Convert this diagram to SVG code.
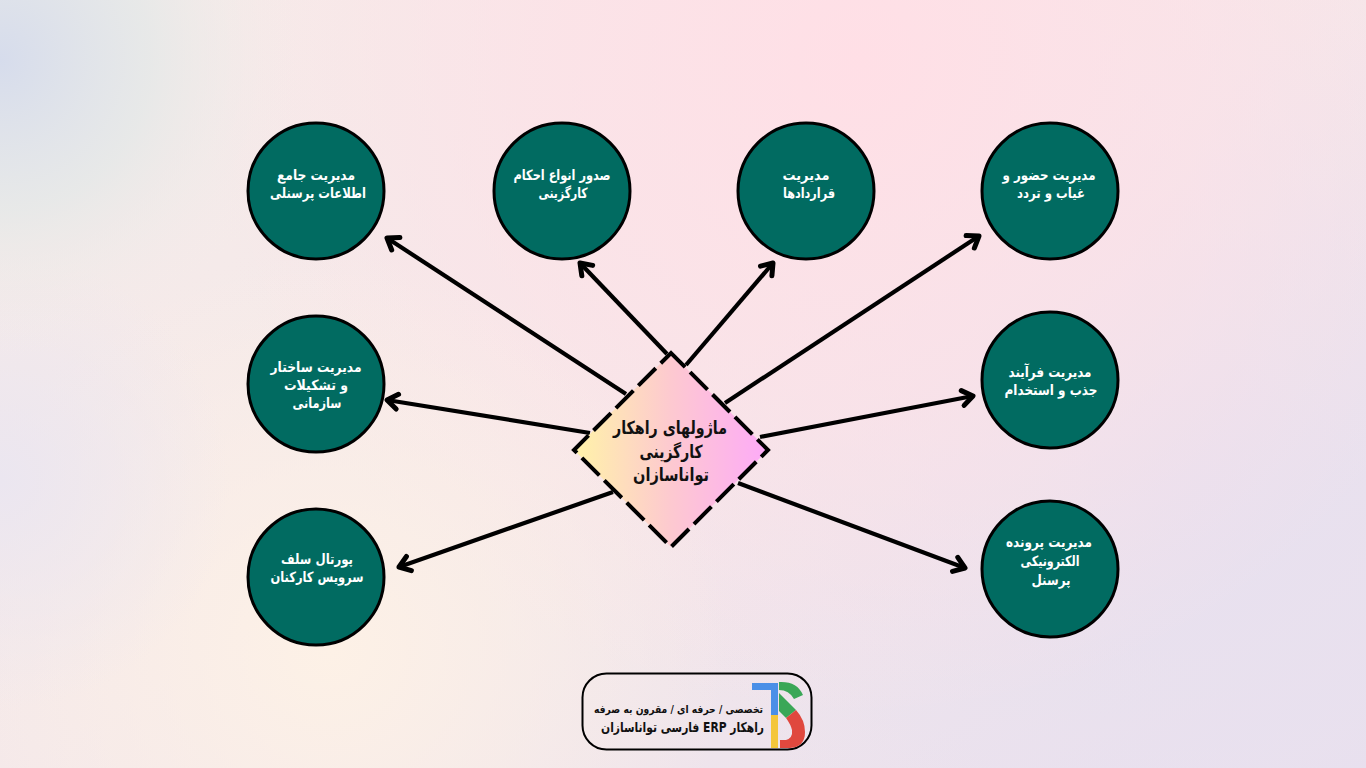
<svg xmlns="http://www.w3.org/2000/svg" width="1366" height="768" viewBox="0 0 1366 768">
<defs>
<linearGradient id="base" x1="0" y1="0" x2="1" y2="1"><stop offset="0" stop-color="#f6ece9"/><stop offset="0.5" stop-color="#f4e8ea"/><stop offset="1" stop-color="#e9e0ee"/></linearGradient>
<radialGradient id="bgBlue" gradientUnits="userSpaceOnUse" cx="0" cy="60" r="300"><stop offset="0" stop-color="#d6dcec"/><stop offset="0.5" stop-color="#e4e8e8" stop-opacity="0.8"/><stop offset="1" stop-color="#f4ece9" stop-opacity="0"/></radialGradient>
<radialGradient id="bgPink" gradientUnits="userSpaceOnUse" cx="860" cy="60" r="660"><stop offset="0" stop-color="#ffdfe6"/><stop offset="0.5" stop-color="#fde1e7" stop-opacity="0.7"/><stop offset="1" stop-color="#fde1e7" stop-opacity="0"/></radialGradient>
<radialGradient id="bgPeach" gradientUnits="userSpaceOnUse" cx="330" cy="650" r="400"><stop offset="0" stop-color="#fdf1e6"/><stop offset="1" stop-color="#fdf1e6" stop-opacity="0"/></radialGradient>
<radialGradient id="bgLav" gradientUnits="userSpaceOnUse" cx="1200" cy="480" r="520"><stop offset="0" stop-color="#e7e0ef"/><stop offset="1" stop-color="#e7e0ef" stop-opacity="0"/></radialGradient>
<radialGradient id="bgBlue2" gradientUnits="userSpaceOnUse" cx="0" cy="480" r="230"><stop offset="0" stop-color="#ebe6f0"/><stop offset="1" stop-color="#ebe6f0" stop-opacity="0"/></radialGradient>
<linearGradient id="dia" x1="0" y1="0" x2="1" y2="0"><stop offset="0" stop-color="#fff3a8"/><stop offset="0.5" stop-color="#fdc9d0"/><stop offset="1" stop-color="#fdaaf8"/></linearGradient>
<marker id="arrow" markerUnits="userSpaceOnUse" markerWidth="24" markerHeight="24" refX="15" refY="12" orient="auto" overflow="visible"><path d="M4.500 4.500 L15 12 L4.500 19.500" fill="none" stroke="#000" stroke-width="5" stroke-linecap="round" stroke-linejoin="round"/></marker>
</defs>
<style>
.c{fill:#016b61;stroke:#000;stroke-width:3}
.t{font-family:"DejaVu Sans","Noto Sans",sans-serif;font-weight:700;font-size:14px;fill:#fff;text-anchor:middle;direction:rtl}
.h{font-family:"DejaVu Sans","Noto Sans",sans-serif;font-weight:700;font-size:18px;fill:#111;text-anchor:middle;direction:rtl}
.l{font-family:"DejaVu Sans","Noto Sans",sans-serif;font-weight:700;fill:#111;direction:rtl;text-anchor:middle}
.a{fill:none;stroke:#000;stroke-width:4.200;stroke-linecap:butt;marker-end:url(#arrow)}
.d{stroke:#000;stroke-width:4;stroke-dasharray:24.700 7;stroke-dashoffset:4.700;fill:none}
</style>
<rect width="1366" height="768" fill="url(#base)"/>
<rect width="1366" height="768" fill="url(#bgLav)"/>
<rect width="1366" height="768" fill="url(#bgPink)"/>
<rect width="1366" height="768" fill="url(#bgPeach)"/>
<rect width="1366" height="768" fill="url(#bgBlue2)"/>
<rect width="1366" height="768" fill="url(#bgBlue)"/>
<g id="connectors">
<line class="a" x1="626" y1="394" x2="387" y2="238"/>
<line class="a" x1="667" y1="354" x2="580" y2="263"/>
<line class="a" x1="686" y1="365" x2="773" y2="263"/>
<line class="a" x1="725" y1="403" x2="979" y2="236"/>
<line class="a" x1="590" y1="433" x2="387" y2="400"/>
<line class="a" x1="760" y1="437" x2="973" y2="396"/>
<line class="a" x1="613" y1="492" x2="399" y2="567"/>
<line class="a" x1="738" y1="483" x2="965" y2="568"/>
</g>
<g id="center">
<path d="M671 353 L768 450 L671 547 L574 450 Z" fill="url(#dia)"/>
<path class="d" d="M671 353 L768 450 L671 547 L574 450 Z"/>
<text class="h" x="670" y="434" textLength="114" lengthAdjust="spacingAndGlyphs">ماژولهای راهکار</text>
<text class="h" x="671" y="458" textLength="63" lengthAdjust="spacingAndGlyphs">کارگزینی</text>
<text class="h" x="671" y="481" textLength="76" lengthAdjust="spacingAndGlyphs">تواناسازان</text>
</g>
<g id="n1"><circle class="c" cx="316" cy="191" r="68"/><text class="t" x="316" y="180" textLength="78" lengthAdjust="spacingAndGlyphs">مدیریت جامع</text><text class="t" x="318" y="198" textLength="96" lengthAdjust="spacingAndGlyphs">اطلاعات پرسنلی</text></g>
<g id="n2"><circle class="c" cx="562" cy="191" r="68"/><text class="t" x="562" y="180" textLength="97" lengthAdjust="spacingAndGlyphs">صدور انواع احکام</text><text class="t" x="563" y="198" textLength="49" lengthAdjust="spacingAndGlyphs">کارگزینی</text></g>
<g id="n3"><circle class="c" cx="806" cy="191" r="68"/><text class="t" x="806" y="180" textLength="47" lengthAdjust="spacingAndGlyphs">مدیریت</text><text class="t" x="809" y="198" textLength="52" lengthAdjust="spacingAndGlyphs">قراردادها</text></g>
<g id="n4"><circle class="c" cx="1050" cy="191" r="68"/><text class="t" x="1049" y="180" textLength="93" lengthAdjust="spacingAndGlyphs">مدیریت حضور و</text><text class="t" x="1051" y="198" textLength="68" lengthAdjust="spacingAndGlyphs">غیاب و تردد</text></g>
<g id="n5"><circle class="c" cx="316" cy="384" r="68"/><text class="t" x="316" y="372" textLength="91" lengthAdjust="spacingAndGlyphs">مدیریت ساختار</text><text class="t" x="316" y="390" textLength="64" lengthAdjust="spacingAndGlyphs">و تشکیلات</text><text class="t" x="317" y="408" textLength="49" lengthAdjust="spacingAndGlyphs">سازمانی</text></g>
<g id="n6"><circle class="c" cx="1050" cy="380" r="68"/><text class="t" x="1050" y="377" textLength="83" lengthAdjust="spacingAndGlyphs">مدیریت فرآیند</text><text class="t" x="1051" y="395" textLength="93" lengthAdjust="spacingAndGlyphs">جذب و استخدام</text></g>
<g id="n7"><circle class="c" cx="316" cy="577" r="68"/><text class="t" x="317" y="564" textLength="72" lengthAdjust="spacingAndGlyphs">پورتال سلف</text><text class="t" x="317" y="582" textLength="93" lengthAdjust="spacingAndGlyphs">سرویس کارکنان</text></g>
<g id="n8"><circle class="c" cx="1050" cy="569" r="68"/><text class="t" x="1049" y="547" textLength="86" lengthAdjust="spacingAndGlyphs">مدیریت پرونده</text><text class="t" x="1050" y="566" textLength="59" lengthAdjust="spacingAndGlyphs">الکترونیکی</text><text class="t" x="1051" y="585" textLength="39" lengthAdjust="spacingAndGlyphs">پرسنل</text></g>
<g id="logo">
<rect x="582.500" y="673.500" width="229" height="76" rx="24" fill="none" stroke="#000" stroke-width="2"/>
<text class="l" x="678.500" y="713" font-size="11" textLength="169" lengthAdjust="spacingAndGlyphs">تخصصی / حرفه ای / مقرون به صرفه</text>
<text class="l" x="682.500" y="732" font-size="13.500" textLength="163" lengthAdjust="spacingAndGlyphs">راهکار ERP فارسی تواناسازان</text>
<path d="M752 683 H778 V715 H771 V690 H752 Z" fill="#4a8fe7"/>
<rect x="771" y="715" width="7" height="33" fill="#f4c63a"/>
<path d="M779 682 Q797 681 803 695 L794 699 Q789 690 779 690 Z" fill="#3aa757"/>
<path d="M779 693 L796 710 L786 718 L779 711 Z" fill="#3aa757"/>
<path d="M796 710 Q805 720 805 732 Q805 747 790 748 L780 748 L780 740 L786 740 Q793 738 792 730 Q791 725 786 718 Z" fill="#e0483e"/>
</g>
</svg>
